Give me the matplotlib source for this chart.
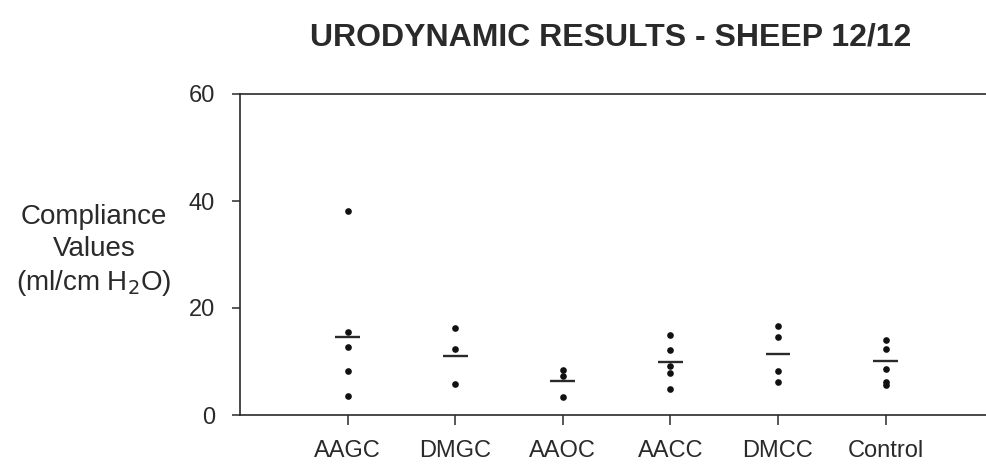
import matplotlib
matplotlib.use("Agg")
import matplotlib.pyplot as plt

categories = ["AAGC", "DMGC", "AAOC", "AACC", "DMCC", "Control"]
values = [
    [38.1, 15.5, 12.8, 8.25, 3.6],
    [16.3, 12.3, 5.75],
    [8.5, 7.3, 3.4],
    [15.0, 12.1, 9.1, 7.8, 4.8],
    [16.7, 14.5, 8.25, 6.1],
    [14.1, 12.4, 8.6, 6.25, 5.6],
]
mean_lines = [14.5, 11.1, 6.4, 9.9, 11.4, 10.1]
y_ticks = [0, 20, 40, 60]

plt.rcParams["font.family"] = ["Liberation Sans", "DejaVu Sans"]
ink = "#2a2a2a"

fig = plt.figure(figsize=(9.86, 4.66), dpi=100)
ax = fig.add_axes([240 / 986, 1 - 415 / 466, 1 - 240 / 986, (415 - 94) / 466])

for i, (vals, m) in enumerate(zip(values, mean_lines), start=1):
    ax.plot([i] * len(vals), vals, "o", color="#111111", markersize=4.8, markeredgewidth=0)
    ax.plot([i - 0.115, i + 0.115], [m, m], color=ink, linewidth=1.7, solid_capstyle="butt")

ax.set_xlim(0, (986 - 240) / 107.6)
ax.set_ylim(0, 60)
ax.set_xticks(range(1, len(categories) + 1))
ax.set_xticklabels(categories, fontsize=17, color=ink)
ax.set_yticks(y_ticks)
ax.set_yticklabels([str(t) for t in y_ticks], fontsize=17, color=ink)
ax.tick_params(axis="x", length=7, width=1.1, pad=11, color=ink)
ax.tick_params(axis="y", length=6, width=1.1, pad=12, color=ink)

for s in ["left", "bottom", "top"]:
    ax.spines[s].set_linewidth(1.2)
    ax.spines[s].set_color(ink)
ax.spines["right"].set_visible(False)

fig.text(94 / 986, 1 - 251 / 466, "Compliance\nValues\n(ml/cm H$_2$O)", ha="center", va="center",
         fontsize=20, color=ink, linespacing=1.3, multialignment="center")

fig.text(611 / 986, 1 - 38 / 466, "URODYNAMIC RESULTS - SHEEP 12/12", ha="center", va="center",
         fontsize=23, fontweight="bold", color=ink)

fig.savefig("out.png", dpi=100, facecolor="white")
